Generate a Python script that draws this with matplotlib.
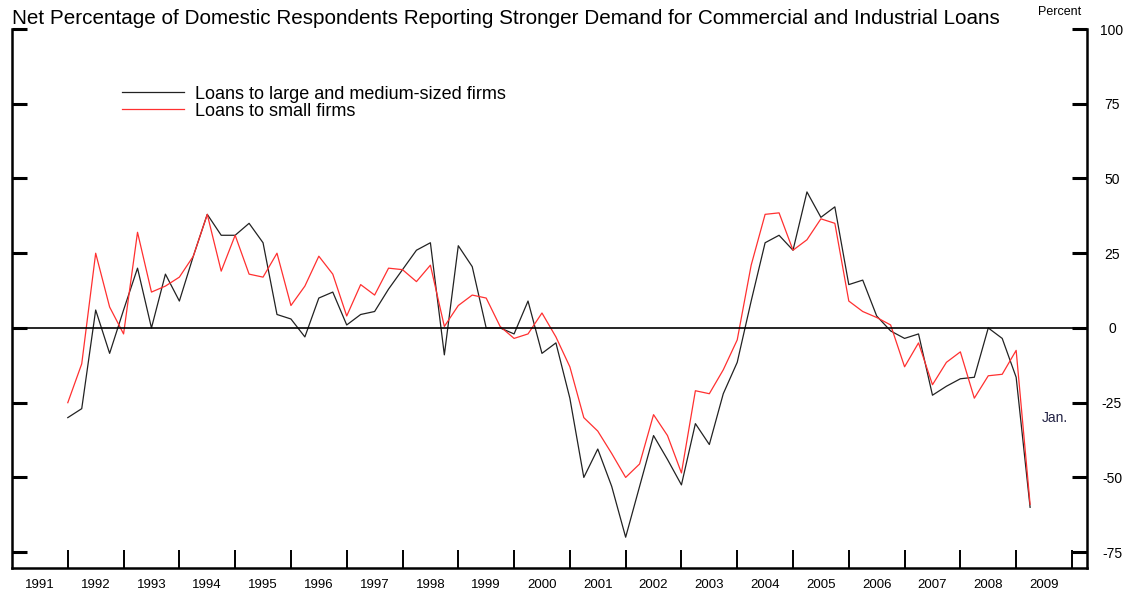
import numpy as np
import matplotlib
matplotlib.use("Agg")
import matplotlib.pyplot as plt

plt.rcParams['font.family'] = ['Liberation Sans', 'DejaVu Sans']

# quarterly survey readings, first one plotted at the start of 1992
large_firms = [-30, -27, 6, -8.5, 6, 20, 0, 18, 9, 24, 38, 31,
               31, 35, 28.5, 4.5, 3, -3, 10, 12, 1, 4.5, 5.5, 13,
               19.5, 26, 28.5, -9, 27.5, 20.5, 0, 0, -2, 9, -8.5, -5,
               -23.5, -50, -40.5, -53, -70, -53, -36, -44, -52.5, -32, -39, -22,
               -11.5, 9, 28.5, 31, 26, 45.5, 37, 40.5, 14.5, 16, 4, -1,
               -3.5, -2, -22.5, -19.5, -17, -16.5, 0, -3.5, -16.5, -60]
small_firms = [-25, -12, 25, 7, -2, 32, 12, 14, 17, 24, 38, 19,
               31, 18, 17, 25, 7.5, 14, 24, 18, 4, 14.5, 11, 20,
               19.5, 15.5, 21, 0.5, 7.5, 11, 10, 0.5, -3.5, -2, 5, -3,
               -13, -30, -34.5, -42, -50, -45.5, -29, -36, -48.5, -21, -22, -14,
               -4, 21, 38, 38.5, 26, 29.5, 36.5, 35, 9, 5.5, 3.5, 1,
               -13, -5, -19, -11.5, -8, -23.5, -16, -15.5, -7.5, -59]
first_year = 1992
years = list(range(1991, 2010))
y_ticks = [-75, -50, -25, 0, 25, 50, 75, 100]

x = first_year + 0.25 * np.arange(len(large_firms))

fig = plt.figure(figsize=(11.33, 5.97), dpi=100)
ax = fig.add_axes([12 / 1133, 29 / 597, 1075 / 1133, 539 / 597])

ax.plot(x, large_firms, color='#222222', lw=0.9, label='Loans to large and medium-sized firms')
ax.plot(x, small_firms, color='#ff3030', lw=0.9, label='Loans to small firms')
ax.axhline(0, color='black', lw=1.2)

ax.set_xlim(1991, 2010.27)
ax.set_ylim(-80.3, 100)

# year boundaries get tick marks, year names sit between them
ax.set_xticks(np.arange(1992, 2011))
ax.set_xticklabels([])
ax.set_xticks([yr + 0.5 for yr in years], minor=True)
ax.set_xticklabels([str(yr) for yr in years], minor=True, fontsize=9.5)
ax.tick_params(axis='x', which='major', direction='in', length=13, width=1.4)
ax.tick_params(axis='x', which='minor', length=0, pad=8)

ax.set_yticks(y_ticks)
ax.set_yticklabels([str(v) for v in y_ticks])
ax.tick_params(axis='y', direction='in', length=11, width=2.2,
               left=True, right=True, labelleft=False, labelright=True,
               labelsize=10, pad=18)
for lab in ax.get_yticklabels():
    lab.set_horizontalalignment('center')

for side in ['left', 'right', 'bottom', 'top']:
    ax.spines[side].set_linewidth(1.8)
ax.spines['top'].set_visible(False)

ax.legend(loc='upper left', bbox_to_anchor=(0.096, 0.908), frameon=False,
          fontsize=13, handlelength=3.4, handletextpad=0.6, labelspacing=0.0,
          borderaxespad=0)

ax.text(2009.7, -30, 'Jan.', fontsize=10, ha='center', va='center', color='#222244')
fig.text(12 / 1133, 1 - 18 / 597, 'Net Percentage of Domestic Respondents Reporting Stronger Demand for Commercial and Industrial Loans',
         fontsize=14.85, ha='left', va='center')
fig.text(1060 / 1133, 1 - 12 / 597, 'Percent', fontsize=9, ha='center', va='center')

fig.savefig('out.png', dpi=100)
